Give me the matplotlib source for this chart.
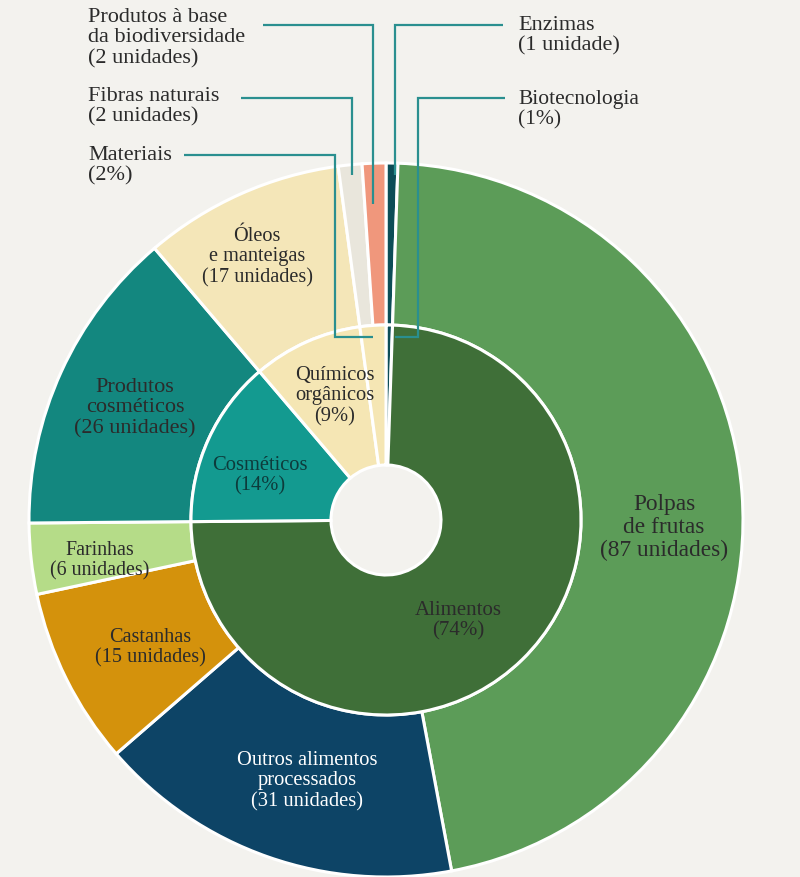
import matplotlib.pyplot as plt

W, H = 800, 877
BG = "#f3f2ee"

# outer ring (clockwise from 12 o'clock)
outer_labels = ["Enzimas\n(1 unidade)", "Polpas\nde frutas\n(87 unidades)",
                "Outros alimentos\nprocessados\n(31 unidades)", "Castanhas\n(15 unidades)",
                "Farinhas\n(6 unidades)", "Produtos\ncosméticos\n(26 unidades)",
                "Óleos\ne manteigas\n(17 unidades)", "Fibras naturais\n(2 unidades)",
                "Produtos à base\nda biodiversidade\n(2 unidades)"]
outer_values = [1, 87, 31, 15, 6, 26, 17, 2, 2]
outer_group = [0, 1, 1, 1, 1, 2, 3, 4, 4]
outer_colors = ["#0c4d57", "#5c9c58", "#0d4466", "#d4920c", "#b5dc88",
                "#13877f", "#f4e6b8", "#e9e6dc", "#f0977c"]

# inner ring
inner_labels = ["Biotecnologia\n(1%)", "Alimentos\n(74%)", "Cosméticos\n(14%)",
                "Químicos\norgânicos\n(9%)", "Materiais\n(2%)"]
inner_values = [sum(v for v, g in zip(outer_values, outer_group) if g == i)
                for i in range(len(inner_labels))]
inner_colors = ["#0c4d57", "#3f6f38", "#139a90", "#f5e6b4", "#f5e6b4"]

plt.rcParams["font.family"] = ["Liberation Serif", "DejaVu Serif"]

fig = plt.figure(figsize=(W / 100, H / 100), dpi=100, facecolor=BG)
ax = fig.add_axes([0, 0, 1, 1])
ax.set_facecolor(BG)

cx, cy = 386, H - 520
R_out, R_mid, R_hole = 357, 195, 55

ax.pie(outer_values, radius=R_out, center=(cx, cy), startangle=90, counterclock=False,
       colors=outer_colors,
       wedgeprops=dict(width=R_out - R_mid, edgecolor="white", linewidth=2.2))
ax.pie(inner_values, radius=R_mid, center=(cx, cy), startangle=90, counterclock=False,
       colors=inner_colors,
       wedgeprops=dict(width=R_mid - R_hole, edgecolor="white", linewidth=2.2))

ax.set_xlim(0, W)
ax.set_ylim(0, H)
ax.set_aspect("equal")
ax.axis("off")

TXT = "#2b2b2b"

def label(x, y, s, fs=16, color=TXT, ha="center"):
    ax.text(x, H - y, s, ha=ha, va="center", fontsize=fs, color=color, linespacing=1.12)

# labels inside the rings (pixel positions, y from top)
label(664, 528, outer_labels[1], fs=16.8)
label(307, 781, outer_labels[2], fs=14.8, color="white")
label(150, 648, outer_labels[3], fs=14.6)
label(100, 561, outer_labels[4], fs=14.4)
label(135, 408, outer_labels[5], fs=16)
label(257, 257, outer_labels[6], fs=14.6)
label(458, 621, inner_labels[1], fs=15)
label(260, 476, inner_labels[2], fs=14.8, color="#0d3b3b")
label(335, 396, inner_labels[3], fs=14.8)

# callout labels
label(88, 38, outer_labels[8], ha="left")
label(88, 107, outer_labels[7], ha="left")
label(88, 166, inner_labels[4], ha="left")
label(518, 36, outer_labels[0], ha="left")
label(518, 110, inner_labels[0], fs=15.5, ha="left")

LC = "#2a8f8f"
def callout(pts):
    xs = [p[0] for p in pts]
    ys = [H - p[1] for p in pts]
    ax.plot(xs, ys, color=LC, lw=1.6, solid_capstyle="butt", solid_joinstyle="miter")

callout([(263, 25), (373, 25), (373, 204)])
callout([(241, 98), (352, 98), (352, 175)])
callout([(184, 155), (335, 155), (335, 337), (373, 337)])
callout([(503, 25), (395, 25), (395, 175)])
callout([(505, 98), (418, 98), (418, 337), (395, 337)])

fig.savefig("out.png", dpi=100, facecolor=BG)
